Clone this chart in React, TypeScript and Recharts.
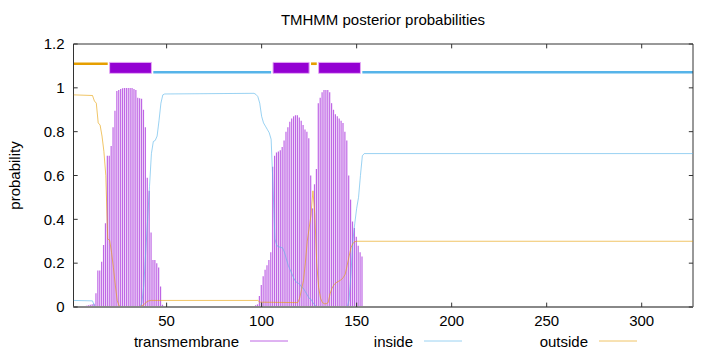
import React from "react";
import { Bar, ComposedChart, Line, ReferenceArea, ReferenceLine, XAxis, YAxis } from "recharts";

const seqLength = 327;

// transmembrane posterior, one value per residue, two stretches (zero elsewhere)
const tmStartA = 5;
const tmProbA = [
  0.003, 0.004, 0.005, 0.006, 0.008, 0.01, 0.012, 0.015, 0.063, 0.166,
  0.166, 0.207, 0.283, 0.382, 0.69, 0.69, 0.735, 0.82, 0.896, 0.985,
  0.99, 0.995, 0.998, 0.999, 0.999, 0.999, 0.999, 0.999, 0.995, 0.99,
  0.955, 0.953, 0.95, 0.9, 0.82, 0.59, 0.53, 0.34, 0.215, 0.215,
  0.2, 0.18, 0.093, 0.01, 0.005, 0.003,
];
const tmStartB = 94;
const tmProbB = [
  0.003, 0.004, 0.005, 0.008, 0.012, 0.05, 0.1, 0.14, 0.17, 0.19,
  0.215, 0.25, 0.64, 0.69, 0.705, 0.71, 0.715, 0.73, 0.76, 0.8,
  0.82, 0.845, 0.86, 0.87, 0.875, 0.875, 0.865, 0.85, 0.83, 0.81,
  0.8, 0.77, 0.6, 0.45, 0.56, 0.63, 0.93, 0.955, 0.98, 0.99,
  0.99, 0.99, 0.98, 0.93, 0.9, 0.88, 0.87, 0.86, 0.85, 0.84,
  0.8, 0.76, 0.6, 0.49, 0.39, 0.36, 0.32, 0.28, 0.25, 0.23,
  0.005,
];

// [residue, probability] vertices of the inside / outside traces
const insideTrace: [number, number][] = [
  [1, 0.03], [11, 0.028], [12, 0.005], [13, 0], [36, 0], [37, 0.02], [38, 0.1],
  [39, 0.25], [40, 0.4], [41, 0.55], [42, 0.7], [43, 0.755], [44, 0.76], [45, 0.78],
  [46, 0.85], [47, 0.93], [48, 0.968], [49, 0.972], [96, 0.975], [97, 0.97],
  [98, 0.96], [99, 0.93], [100, 0.87], [101, 0.84], [102, 0.825], [103, 0.81],
  [104, 0.795], [105, 0.765], [106, 0.55], [107, 0.31], [108, 0.28], [109, 0.275],
  [110, 0.272], [111, 0.27], [112, 0.25], [113, 0.22], [114, 0.19], [115, 0.17],
  [116, 0.15], [117, 0.13], [118, 0.115], [119, 0.11], [120, 0.105], [121, 0.09],
  [122, 0.085], [123, 0.07], [124, 0.055], [125, 0.04], [126, 0.035], [127, 0.02],
  [128, 0.008], [129, 0.002], [130, 0], [145, 0], [146, 0.03], [147, 0.15],
  [148, 0.3], [149, 0.38], [150, 0.45], [151, 0.5], [152, 0.6], [153, 0.69],
  [154, 0.7], [327, 0.7],
];
const outsideTrace: [number, number][] = [
  [1, 0.968], [11, 0.965], [12, 0.94], [13, 0.93], [14, 0.84], [15, 0.83], [16, 0.78],
  [17, 0.71], [18, 0.6], [19, 0.31], [20, 0.305], [21, 0.25], [22, 0.18], [23, 0.1],
  [24, 0.03], [25, 0.005], [26, 0], [35, 0], [36, 0.002], [37, 0.005], [38, 0.01],
  [39, 0.02], [40, 0.026], [41, 0.029], [42, 0.03], [98, 0.03], [99, 0.022],
  [119, 0.02], [120, 0.04], [121, 0.08], [122, 0.12], [123, 0.2], [124, 0.3],
  [125, 0.36], [126, 0.42], [127, 0.53], [128, 0.42], [129, 0.2], [130, 0.09],
  [131, 0.04], [132, 0.02], [133, 0.015], [134, 0.015], [135, 0.02], [136, 0.06],
  [137, 0.085], [138, 0.1], [139, 0.11], [140, 0.115], [141, 0.12], [142, 0.125],
  [143, 0.135], [144, 0.15], [145, 0.19], [146, 0.23], [147, 0.27], [148, 0.29],
  [149, 0.298], [150, 0.3], [327, 0.3],
];

// predicted topology: [region, from, to]
const topology: [string, number, number][] = [
  ["outside", 1, 19],
  ["TMhelix", 20, 42],
  ["inside", 43, 105],
  ["TMhelix", 106, 125],
  ["outside", 126, 129],
  ["TMhelix", 130, 152],
  ["inside", 153, 327],
];

const xTicks = [50, 100, 150, 200, 250, 300];
const yTicks = [0, 0.2, 0.4, 0.6, 0.8, 1, 1.2];

const PURPLE = "#9400d3";
const BLUE = "#56b4e9";
const ORANGE = "#e69f00";
const FONT = '"Liberation Sans", Arial, sans-serif';
const FS = 15;

const tmData = [
  ...tmProbA.map((p, i) => ({ residue: tmStartA + i, tm: p })),
  ...tmProbB.map((p, i) => ({ residue: tmStartB + i, tm: p })),
];
const insideData = insideTrace.map(([residue, prob]) => ({ residue, prob }));
const outsideData = outsideTrace.map(([residue, prob]) => ({ residue, prob }));

const legendItems = [
  { name: "transmembrane", color: PURPLE, textEnd: 239, lineX: 250 },
  { name: "inside", color: BLUE, textEnd: 413, lineX: 424 },
  { name: "outside", color: ORANGE, textEnd: 588, lineX: 599 },
];

function topoArea(kind: string, from: number, to: number, i: number) {
  if (kind === "TMhelix") {
    return (
      <ReferenceArea key={i} x1={from} x2={to} y1={1.066} y2={1.116}
        fill={PURPLE} fillOpacity={1} stroke="#e4a8f4" strokeWidth={1} />
    );
  }
  const inside = kind === "inside";
  return (
    <ReferenceArea key={i} x1={from} x2={to}
      y1={inside ? 1.065 : 1.104} y2={inside ? 1.077 : 1.116}
      fill={inside ? BLUE : ORANGE} fillOpacity={1} stroke="none" />
  );
}

export default function App() {
  return (
    <div style={{ position: "absolute", left: 0, top: 0, width: 720, height: 352, background: "#fff", fontFamily: FONT }}>
      <ComposedChart width={720} height={352} data={tmData}
        margin={{ top: 44, right: 27, bottom: 15, left: 33.5 }}>
        <XAxis dataKey="residue" type="number" domain={[1, seqLength]} ticks={xTicks}
          allowDataOverflow axisLine={false} tickLine={false} height={30}
          tick={{ fontSize: FS, fill: "#000", fontFamily: FONT }} />
        <YAxis type="number" domain={[0, 1.2]} ticks={yTicks} width={40}
          axisLine={false} tickLine={false} tickMargin={3}
          tickFormatter={(v: number) => String(v)}
          tick={{ fontSize: FS, fill: "#000", fontFamily: FONT }} />

        <Bar dataKey="tm" fill={PURPLE} fillOpacity={0.6} barSize={1.2} isAnimationActive={false} />
        <Line data={insideData} dataKey="prob" type="linear" dot={false} activeDot={false}
          stroke={BLUE} strokeOpacity={0.6} strokeWidth={1} isAnimationActive={false} />
        <Line data={outsideData} dataKey="prob" type="linear" dot={false} activeDot={false}
          stroke={ORANGE} strokeOpacity={0.6} strokeWidth={1} isAnimationActive={false} />

        {topology.map(([kind, from, to], i) => topoArea(kind, from, to, i))}

        {/* frame and inward tick marks */}
        <ReferenceArea x1={1} x2={seqLength} y1={0} y2={1.2} fill="none" stroke="#333" strokeWidth={1} />
        <ReferenceLine y={0} stroke="#888" strokeWidth={2} />
        {xTicks.map((t) => (
          <ReferenceLine key={"b" + t} segment={[{ x: t, y: 0 }, { x: t, y: 0.02 }]} stroke="#333" />
        ))}
        {xTicks.map((t) => (
          <ReferenceLine key={"t" + t} segment={[{ x: t, y: 1.2 }, { x: t, y: 1.18 }]} stroke="#333" />
        ))}
        {yTicks.map((t) => (
          <ReferenceLine key={"l" + t} segment={[{ x: 1, y: t }, { x: 3.2, y: t }]} stroke="#333" />
        ))}
        {yTicks.map((t) => (
          <ReferenceLine key={"r" + t} segment={[{ x: seqLength, y: t }, { x: seqLength - 2.2, y: t }]} stroke="#333" />
        ))}
      </ComposedChart>

      <div style={{ position: "absolute", left: 0, width: 766, top: 11, textAlign: "center", fontSize: FS, lineHeight: "17px" }}>
        TMHMM posterior probabilities
      </div>
      <svg width={30} height={352} style={{ position: "absolute", left: 0, top: 0 }}>
        <text x={20} y={175.5} transform="rotate(-90 20 175.5)" textAnchor="middle"
          fontSize={FS} fontFamily={FONT} fill="#000">probability</text>
      </svg>
      <svg width={720} height={20} style={{ position: "absolute", left: 0, top: 332 }}>
        {legendItems.map((it) => (
          <g key={it.name}>
            <text x={it.textEnd} y={14.5} textAnchor="end" fontSize={FS} fontFamily={FONT} fill="#000">{it.name}</text>
            <line x1={it.lineX} x2={it.lineX + 38} y1={9} y2={9} stroke={it.color} strokeOpacity={0.6} strokeWidth={1} />
          </g>
        ))}
      </svg>
    </div>
  );
}
